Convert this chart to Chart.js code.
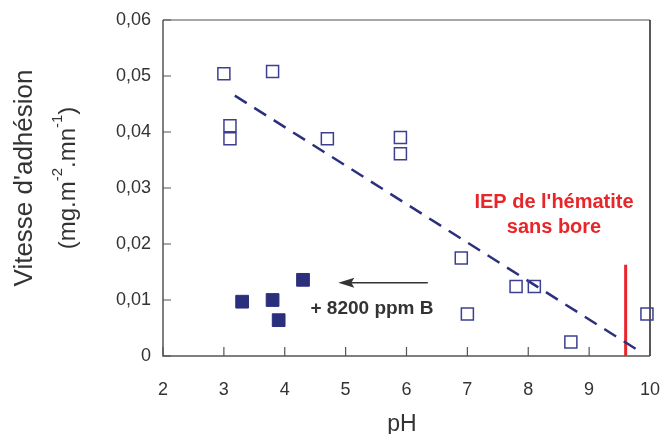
<!DOCTYPE html>
<html>
<head>
<meta charset="utf-8">
<script src="https://cdn.jsdelivr.net/npm/chart.js@4/dist/chart.umd.min.js"></script>
<style>
  html, body { margin: 0; padding: 0; background: #fff; }
</style>
</head>
<body>
<canvas id="phChart" width="664" height="434"></canvas>
<script>
    // --- DATA ---
    const xTicks = [2, 3, 4, 5, 6, 7, 8, 9, 10];
    const yTicks = [0, 0.01, 0.02, 0.03, 0.04, 0.05, 0.06];
    const yTickLabels = ['0', '0,01', '0,02', '0,03', '0,04', '0,05', '0,06'];

    // hematite sans bore (open squares)
    const sansBoreX = [3.0, 3.8, 3.1, 3.1, 4.7, 5.9, 5.9, 6.9, 7.0, 7.8, 8.1, 8.7, 9.95];
    const sansBoreY = [0.0504, 0.0508, 0.0411, 0.0388, 0.0388, 0.0390, 0.0361, 0.0175, 0.0075, 0.0124, 0.0124, 0.0025, 0.0075];

    // + 8200 ppm B (filled squares)
    const boreX = [3.3, 3.8, 3.9, 4.3];
    const boreY = [0.0097, 0.0100, 0.0064, 0.0136];

    // dashed trend line
    const trendX = [3.18, 9.82];
    const trendY = [0.0465, 0.0009];

    // IEP marker (red vertical)
    const iepX = [9.6, 9.6];
    const iepY = [0, 0.0163];

    // arrow pointing to the boron points
    const arrowX = [6.35, 4.88];
    const arrowY = [0.0131, 0.0131];

    const toPts = (xs, ys) => xs.map((x, i) => ({ x: x, y: ys[i] }));

    // --- FRAME + INNER TICKS + NOTES ---
    const framePlugin = {
        id: 'frame',
        beforeDatasetsDraw(chart) {
            const { ctx, chartArea: a, scales } = chart;
            ctx.save();
            ctx.lineWidth = 1.5;
            ctx.strokeStyle = '#8a8a8a';
            ctx.beginPath();
            ctx.moveTo(a.left, a.top);
            ctx.lineTo(a.right, a.top);
            ctx.stroke();
            ctx.strokeStyle = '#555';
            ctx.beginPath();
            ctx.moveTo(a.left, a.top);
            ctx.lineTo(a.left, a.bottom);
            ctx.lineTo(a.right, a.bottom);
            ctx.stroke();
            ctx.strokeStyle = '#222';
            ctx.beginPath();
            ctx.moveTo(a.right, a.top);
            ctx.lineTo(a.right, a.bottom);
            ctx.stroke();

            ctx.strokeStyle = '#555';
            ctx.lineWidth = 1.2;
            ctx.beginPath();
            yTicks.forEach(v => {
                const py = scales.y.getPixelForValue(v);
                ctx.moveTo(a.left, py);
                ctx.lineTo(a.left + 8, py);
            });
            xTicks.forEach(v => {
                const px = scales.x.getPixelForValue(v);
                ctx.moveTo(px, a.bottom);
                ctx.lineTo(px, a.bottom - 9);
            });
            ctx.stroke();
            ctx.restore();
        },
        afterDatasetsDraw(chart) {
            const { ctx, scales } = chart;
            const x = scales.x, y = scales.y;
            ctx.save();

            // arrow
            const x1 = x.getPixelForValue(arrowX[0]);
            const x2 = x.getPixelForValue(arrowX[1]);
            const ay = y.getPixelForValue(arrowY[0]);
            ctx.strokeStyle = '#333';
            ctx.fillStyle = '#333';
            ctx.lineWidth = 1.5;
            ctx.beginPath();
            ctx.moveTo(x1, ay);
            ctx.lineTo(x2 + 12, ay);
            ctx.stroke();
            ctx.beginPath();
            ctx.moveTo(x2, ay);
            ctx.lineTo(x2 + 16, ay - 5);
            ctx.lineTo(x2 + 13, ay);
            ctx.lineTo(x2 + 16, ay + 5);
            ctx.closePath();
            ctx.fill();

            ctx.textAlign = 'center';
            ctx.textBaseline = 'middle';
            ctx.font = 'bold 19px "Liberation Sans", Arial, sans-serif';
            ctx.fillText('+ 8200 ppm B', 372, 309);

            ctx.fillStyle = '#e8262a';
            ctx.font = 'bold 20px "Liberation Sans", Arial, sans-serif';
            ctx.fillText("IEP de l'hématite", 554, 202);
            ctx.fillText('sans bore', 554, 227);

            // x axis title (partly cut by the bottom edge, as in the original)
            ctx.fillStyle = '#333';
            ctx.font = '23px "Liberation Sans", Arial, sans-serif';
            ctx.fillText('pH', 402, 425);

            // y axis title
            ctx.translate(25, 178);
            ctx.rotate(-Math.PI / 2);
            ctx.font = '26px "Liberation Sans", Arial, sans-serif';
            ctx.fillText("Vitesse d'adhésion", 0, 0);
            // second line with superscripts
            const parts = [['(mg.m', 0], ['-2', 1], ['.mn', 0], ['-1', 1], [')', 0]];
            const big = '24px "Liberation Sans", Arial, sans-serif';
            const small = '15px "Liberation Sans", Arial, sans-serif';
            let total = 0;
            parts.forEach(p => { ctx.font = p[1] ? small : big; total += ctx.measureText(p[0]).width; });
            let cx = -total / 2;
            ctx.textAlign = 'left';
            parts.forEach(p => {
                ctx.font = p[1] ? small : big;
                ctx.fillText(p[0], cx, p[1] ? 33 : 43);
                cx += ctx.measureText(p[0]).width;
            });
            ctx.restore();
        }
    };

    // --- CHART INITIALIZATION ---
    const ctx = document.getElementById('phChart').getContext('2d');
    const phChart = new Chart(ctx, {
        type: 'scatter',
        data: {
            datasets: [
                {
                    data: toPts(sansBoreX, sansBoreY),
                    pointStyle: 'rect',
                    pointRadius: 8.5,
                    pointBorderWidth: 1.5,
                    pointBorderColor: '#3c3f92',
                    pointBackgroundColor: 'rgba(255,255,255,0)',
                    clip: false
                },
                {
                    data: toPts(boreX, boreY),
                    pointStyle: 'rect',
                    pointRadius: 9,
                    pointBorderWidth: 1,
                    pointBorderColor: '#2c2f7c',
                    pointBackgroundColor: '#2c2f7c',
                    clip: false
                },
                {
                    type: 'line',
                    data: toPts(trendX, trendY),
                    borderColor: '#2c2f7c',
                    borderWidth: 2.5,
                    borderDash: [14, 9],
                    pointRadius: 0,
                    fill: false
                },
                {
                    type: 'line',
                    data: toPts(iepX, iepY),
                    borderColor: '#e8262a',
                    borderWidth: 3,
                    pointRadius: 0,
                    fill: false
                }
            ]
        },
        options: {
            responsive: false,
            animation: false,
            layout: { padding: { top: 20, right: 14, left: 0, bottom: 0 } },
            scales: {
                x: {
                    type: 'linear',
                    min: 2, max: 10,
                    afterFit: s => { s.height = 78; s.paddingLeft = 0; s.paddingRight = 0; },
                    afterBuildTicks: s => { s.ticks = xTicks.map(v => ({ value: v })); },
                    grid: { display: false },
                    border: { display: false },
                    ticks: {
                        padding: 15,
                        color: '#333',
                        font: { family: '"Liberation Sans", Arial, sans-serif', size: 18 }
                    }
                },
                y: {
                    type: 'linear',
                    min: 0, max: 0.06,
                    afterFit: s => { s.width = 163; s.paddingTop = 0; s.paddingBottom = 0; },
                    afterBuildTicks: s => { s.ticks = yTicks.map(v => ({ value: v })); },
                    grid: { display: false },
                    border: { display: false },
                    ticks: {
                        padding: 4,
                        color: '#333',
                        font: { family: '"Liberation Sans", Arial, sans-serif', size: 18 },
                        callback: (v, i) => yTickLabels[i]
                    }
                }
            },
            plugins: { legend: { display: false }, tooltip: { enabled: false } }
        },
        plugins: [framePlugin]
    });
</script>
</body>
</html>
